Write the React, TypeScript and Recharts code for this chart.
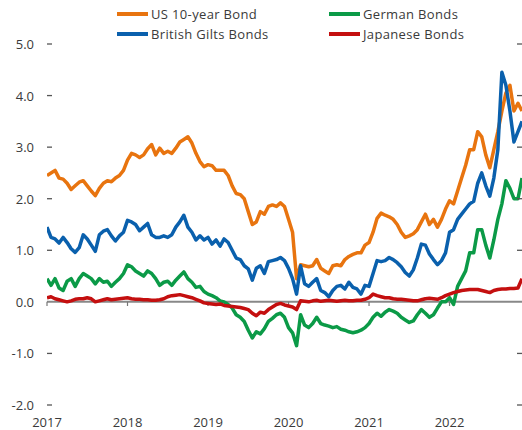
import React from 'react';
import { LineChart, Line, XAxis, YAxis, ReferenceLine } from 'recharts';

const startYear = 2017;
const yearsPerPoint = 0.05;

const usBond = [
  2.45, 2.5, 2.55, 2.4, 2.38, 2.3, 2.18, 2.25, 2.32, 2.35,
  2.25, 2.15, 2.06, 2.2, 2.3, 2.35, 2.33, 2.4, 2.45, 2.55,
  2.75, 2.88, 2.85, 2.8, 2.85, 2.97, 3.05, 2.85, 2.98, 2.88,
  2.92, 2.88, 2.98, 3.1, 3.15, 3.2, 3.08, 2.88, 2.72, 2.62,
  2.66, 2.64, 2.55, 2.55, 2.55, 2.45, 2.25, 2.1, 2.08, 2.0,
  1.75, 1.5, 1.55, 1.75, 1.7, 1.85, 1.88, 1.85, 1.92, 1.85,
  1.6, 1.35, 0.45, 0.72, 0.7, 0.68, 0.7, 0.82, 0.65, 0.6,
  0.55, 0.7, 0.72, 0.7, 0.82, 0.88, 0.92, 0.95, 0.95, 1.1,
  1.15, 1.35, 1.62, 1.72, 1.68, 1.65, 1.6, 1.5, 1.35, 1.25,
  1.28, 1.32, 1.4, 1.55, 1.7, 1.5, 1.6, 1.45, 1.6, 1.8,
  1.96, 1.9, 2.15, 2.4, 2.65, 2.95, 2.95, 3.3, 3.2, 2.85,
  2.6, 2.95, 3.3, 3.7, 4.05, 4.2, 3.7, 3.85, 3.7,
];

const giltBond = [
  1.45, 1.25, 1.22, 1.14, 1.25, 1.15, 1.03, 0.96, 1.05, 1.3,
  1.22, 1.1, 0.98, 1.3, 1.37, 1.4, 1.28, 1.18, 1.28, 1.35,
  1.58, 1.55, 1.5, 1.38, 1.45, 1.52, 1.3, 1.25, 1.25, 1.28,
  1.25, 1.3, 1.45, 1.55, 1.68, 1.45, 1.35, 1.2, 1.28, 1.2,
  1.25, 1.12, 1.2, 1.08, 1.22, 1.15, 1.0, 0.85, 0.82, 0.7,
  0.64, 0.42, 0.65, 0.7, 0.55, 0.78, 0.8, 0.82, 0.86, 0.8,
  0.65, 0.45, 0.15, 0.7, 0.35, 0.3, 0.38, 0.45, 0.22, 0.18,
  0.1, 0.22, 0.3, 0.32, 0.25, 0.38, 0.28, 0.25, 0.15, 0.32,
  0.3, 0.55, 0.8, 0.78, 0.8, 0.86, 0.82, 0.76, 0.68, 0.57,
  0.5, 0.62, 0.85, 1.12, 1.1, 0.93, 0.82, 0.72, 0.8, 0.95,
  1.35, 1.4, 1.6, 1.7, 1.8, 1.9, 1.95, 2.3, 2.5, 2.25,
  2.05, 2.4, 2.95, 4.45, 4.2, 3.7, 3.1, 3.3, 3.5,
];

const germanBond = [
  0.45, 0.32, 0.45, 0.27, 0.22, 0.4, 0.45, 0.3, 0.45, 0.55,
  0.5, 0.45, 0.35, 0.45, 0.38, 0.4, 0.3, 0.38, 0.45, 0.55,
  0.72, 0.68, 0.6, 0.55, 0.5, 0.6, 0.55, 0.45, 0.32, 0.38,
  0.4, 0.32, 0.42, 0.5, 0.58, 0.45, 0.38, 0.28, 0.3, 0.2,
  0.15, 0.12, 0.08, 0.02, 0.0, -0.05, -0.12, -0.25, -0.3, -0.38,
  -0.55, -0.7, -0.58, -0.62, -0.52, -0.38, -0.32, -0.25, -0.22, -0.3,
  -0.5, -0.6, -0.85, -0.25, -0.45, -0.5, -0.42, -0.3, -0.42, -0.45,
  -0.47, -0.5, -0.48, -0.53, -0.55, -0.58, -0.6, -0.58, -0.55, -0.5,
  -0.42, -0.3, -0.22, -0.28, -0.2, -0.15, -0.18, -0.22, -0.3, -0.35,
  -0.4, -0.37, -0.25, -0.15, -0.22, -0.3, -0.25, -0.12, 0.0, 0.0,
  0.08, -0.05, 0.3, 0.45, 0.6, 0.95, 0.95, 1.4, 1.4, 1.1,
  0.85, 1.2, 1.6, 1.9, 2.35, 2.2, 2.0, 2.0, 2.4,
];

const japanBond = [
  0.08, 0.1, 0.06, 0.04, 0.02, 0.0, 0.02, 0.05, 0.06, 0.06,
  0.08, 0.06, 0.0, 0.02, 0.04, 0.06, 0.04, 0.05, 0.06, 0.07,
  0.08, 0.06, 0.05, 0.05, 0.04, 0.04, 0.03, 0.03, 0.04, 0.06,
  0.1, 0.12, 0.13, 0.14, 0.12, 0.1, 0.08, 0.05, 0.02, -0.02,
  -0.03, -0.04, -0.05, -0.04, -0.07, -0.08, -0.09, -0.1, -0.11, -0.13,
  -0.15, -0.22, -0.27, -0.2, -0.22, -0.15, -0.1, -0.05, -0.03, -0.06,
  -0.08, -0.1, -0.15, 0.02, 0.01, 0.0, 0.02, 0.03, 0.01, 0.02,
  0.03, 0.02, 0.01, 0.02, 0.03, 0.02, 0.02, 0.03, 0.03, 0.05,
  0.08, 0.15, 0.12, 0.1, 0.08, 0.08, 0.06, 0.05, 0.05, 0.04,
  0.03, 0.02, 0.02, 0.04, 0.06, 0.07, 0.06, 0.05, 0.08, 0.12,
  0.15, 0.18, 0.2, 0.22, 0.23, 0.24, 0.24, 0.24, 0.22, 0.2,
  0.18, 0.22, 0.24, 0.25, 0.25, 0.26, 0.26, 0.27, 0.45,
];

const yearTicks = [2017, 2018, 2019, 2020, 2021, 2022];
const valueTicks = [-2, -1, 0, 1, 2, 3, 4, 5];
const unitLabel = '(%)';

const seriesDefs = [
  { key: 'us', name: 'US 10-year Bond', color: '#E8740F' },
  { key: 'de', name: 'German Bonds', color: '#0B9A47' },
  { key: 'uk', name: 'British Gilts Bonds', color: '#0A60AD' },
  { key: 'jp', name: 'Japanese Bonds', color: '#C40F0F' },
];

const data = usBond.map((v, i) => ({
  t: startYear + i * yearsPerPoint,
  us: v,
  uk: giltBond[i],
  de: germanBond[i],
  jp: japanBond[i],
}));

const FONT = '"Open Sans", sans-serif';
const TEXT = '#3a3a3a';
const PLOT_LEFT = 47;
const PLOT_RIGHT = 522;

const YTick = (props: any) => {
  const { y, payload } = props;
  const v = payload.value as number;
  return (
    <g>
      <text x={34} y={y} textAnchor="end" dominantBaseline="central" fill={TEXT}
        fontFamily={FONT} fontSize={13}>{v.toFixed(1)}</text>
      {v !== 0 && <line x1={PLOT_LEFT} x2={PLOT_LEFT + 5} y1={y} y2={y} stroke="#555" strokeWidth={1.3} />}
      {v !== 0 && <line x1={PLOT_RIGHT - 5} x2={PLOT_RIGHT} y1={y} y2={y} stroke="#555" strokeWidth={1.3} />}
    </g>
  );
};

const XTick = (props: any) => {
  const { x, payload } = props;
  return (
    <text x={x} y={422} textAnchor="middle" dominantBaseline="central" fill={TEXT}
      fontFamily={FONT} fontSize={13}>{payload.value}</text>
  );
};

const legendLayout = [
  { left: 117, top: 14 },
  { left: 329, top: 14 },
  { left: 117, top: 34 },
  { left: 329, top: 34 },
];

export default function App() {
  return (
    <div style={{ position: 'absolute', left: 0, top: 0, width: 522, height: 430, overflow: 'hidden', background: '#fff' }}>
      <LineChart width={522} height={430} data={data} margin={{ top: 44, right: 0, bottom: 0, left: 0 }}>
        <XAxis dataKey="t" type="number" domain={[2017, 2022.9]} ticks={yearTicks} tick={<XTick />}
          axisLine={false} tickLine={false} height={25} allowDataOverflow />
        <YAxis type="number" domain={[-2, 5]} ticks={valueTicks} tick={<YTick />} axisLine={false}
          tickLine={false} width={47} />
        <ReferenceLine y={0} stroke="#888" strokeWidth={2} />
        {yearTicks.map((yr) => (
          <ReferenceLine key={yr} segment={[{ x: yr, y: 0 }, { x: yr, y: -0.08 }]} stroke="#777" strokeWidth={1.2} />
        ))}
        {seriesDefs.map((s) => (
          <Line key={s.key} type="linear" dataKey={s.key} name={s.name} stroke={s.color} strokeWidth={3.5}
            dot={false} isAnimationActive={false} strokeLinejoin="round" />
        ))}
      </LineChart>
      <div style={{ position: 'absolute', left: 15, top: -16, fontFamily: FONT, fontSize: 13, color: TEXT }}>{unitLabel}</div>
      {seriesDefs.map((s, i) => (
        <div key={s.key} style={{ position: 'absolute', left: legendLayout[i].left, top: legendLayout[i].top - 9,
          height: 18, display: 'flex', alignItems: 'center', fontFamily: FONT, fontSize: 13, color: TEXT,
          letterSpacing: 0.35, whiteSpace: 'nowrap' }}>
          <span style={{ display: 'inline-block', width: 31, height: 3.5, background: s.color, marginRight: 3 }} />
          <span>{s.name}</span>
        </div>
      ))}
    </div>
  );
}
